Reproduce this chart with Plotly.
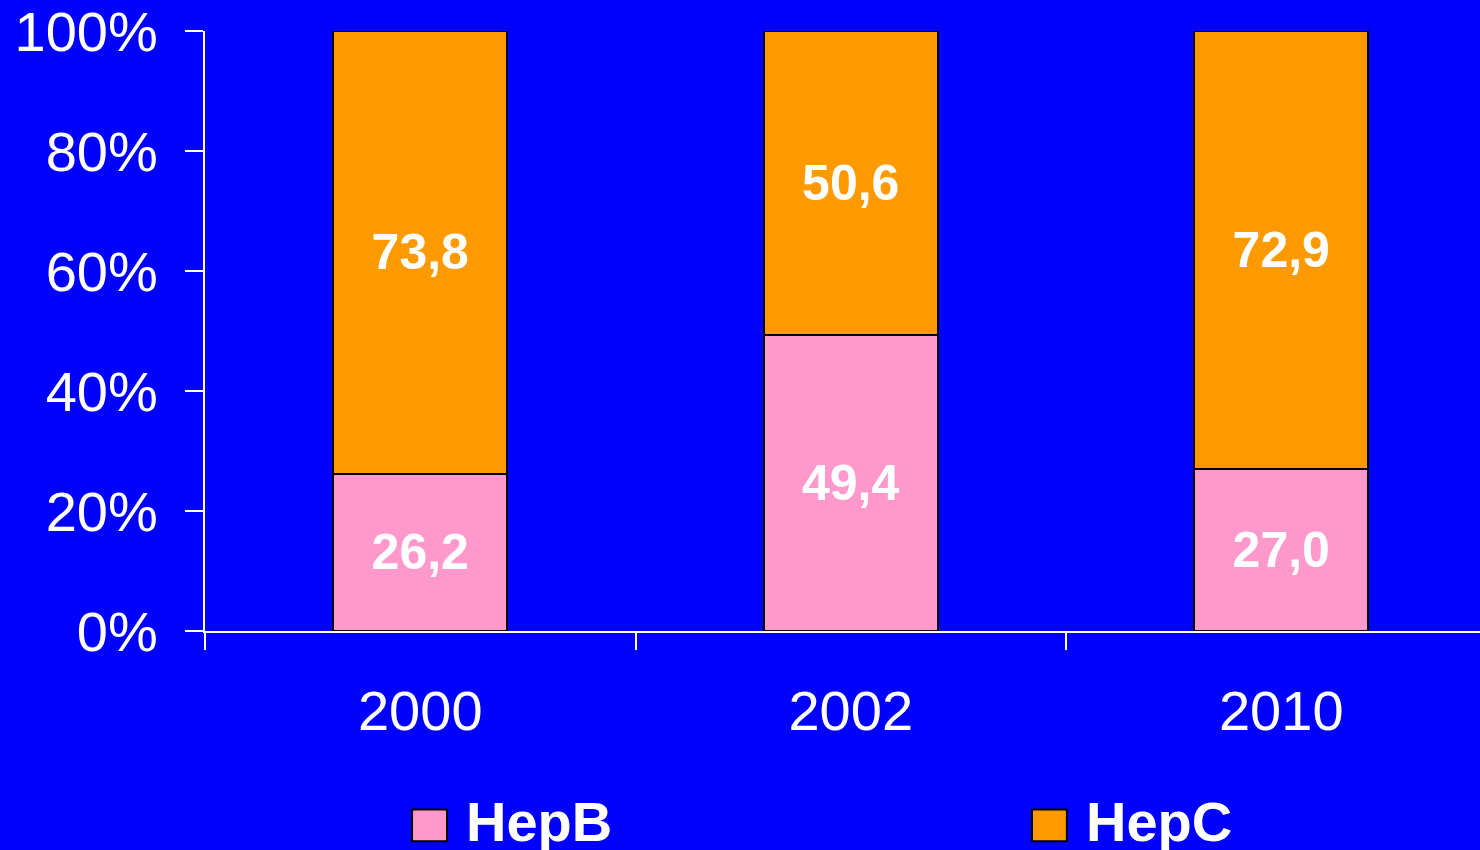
import plotly.graph_objects as go

# Dados
anos = ['2000', '2002', '2010']
hepb = [26.2, 49.4, 27.0]
hepc = [73.8, 50.6, 72.9]
series = ['HepB', 'HepC']
y_ticks = [0, 20, 40, 60, 80, 100]


def fmt(v):
    return f'{v:.1f}'.replace('.', ',')


fig = go.Figure()

fig.add_trace(go.Bar(x=anos, y=hepb, name=series[0],
                     text=[fmt(v) for v in hepb],
                     marker={'color': '#FF99CC', 'line': {'color': '#000000', 'width': 2}}))
fig.add_trace(go.Bar(x=anos, y=hepc, name=series[1],
                     text=[fmt(v) for v in hepc],
                     marker={'color': '#FF9900', 'line': {'color': '#000000', 'width': 2}}))

fig.update_traces(textposition='inside', insidetextanchor='middle', textangle=0,
                  constraintext='none',
                  textfont={'family': 'Liberation Sans, Arial', 'size': 50,
                            'color': 'white', 'weight': 'bold'})

fig.update_layout(barmode='stack', barnorm='percent', bargap=0.596,
                  width=1480, height=850, showlegend=False,
                  margin={'l': 205, 'r': 0, 't': 29, 'b': 219},
                  paper_bgcolor='#0000FF', plot_bgcolor='#0000FF',
                  font={'family': 'Liberation Sans, Arial', 'color': 'white', 'size': 56})

fig.update_xaxes(type='category', range=[-0.5, 2.4617], tickson='boundaries',
                 ticks='outside', ticklen=17, tickwidth=2, tickcolor='white',
                 showline=True, linecolor='white', linewidth=2,
                 showgrid=False, ticklabelstandoff=30)
fig.update_yaxes(range=[0, 100], tickvals=y_ticks,
                 ticktext=[f'{t}%' for t in y_ticks],
                 ticks='outside', ticklen=18, tickwidth=2, tickcolor='white',
                 showline=True, linecolor='white', linewidth=2,
                 showgrid=False, zeroline=False, ticklabelstandoff=16,
                 ticklabeloverflow='allow')

# Legenda desenhada à mão (símbolos grandes)
legend_colors = ['#FF99CC', '#FF9900']
legend_x = [0.1624, 0.6486]
for nome, cor, x0 in zip(series, legend_colors, legend_x):
    fig.add_shape(type='rect', xref='paper', yref='paper',
                  x0=x0, x1=x0 + 0.0274, y0=-0.3505, y1=-0.2973,
                  fillcolor=cor, line={'color': 'black', 'width': 2})
    fig.add_annotation(xref='paper', yref='paper', x=x0 + 0.0408, y=-0.318,
                       xanchor='left', yanchor='middle', showarrow=False,
                       text=nome, font={'size': 56, 'color': 'white', 'weight': 'bold'})

fig.write_html("out.html", config={'displayModeBar': False},
               post_script="document.body.style.margin='0px';")
